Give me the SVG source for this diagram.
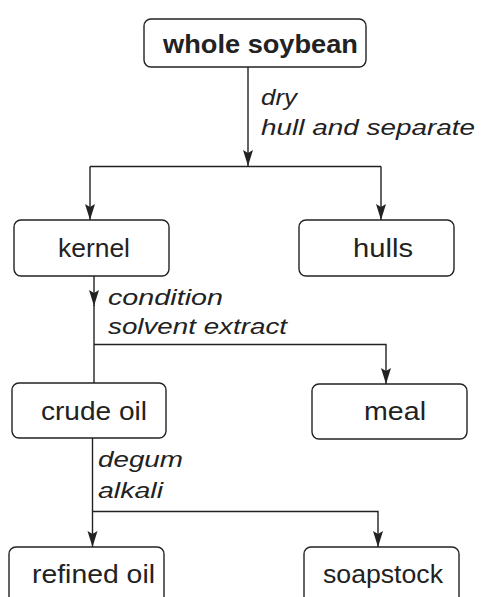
<svg xmlns="http://www.w3.org/2000/svg" width="481" height="597" viewBox="0 0 481 597">
<style>
.box{fill:#fff;stroke:#222;stroke-width:1.4}
.lbl{font-family:"Liberation Sans",Arial,sans-serif;font-size:26px;fill:#222}
.b{font-weight:bold}
.it{font-family:"Liberation Sans",Arial,sans-serif;font-size:22px;font-style:italic;fill:#222}
.ln{fill:none;stroke:#222;stroke-width:1.4}
</style>
<defs>
<marker id="arr" markerUnits="userSpaceOnUse" markerWidth="18" markerHeight="12" viewBox="-17 -6 18 12" refX="0" refY="0" orient="auto">
<path d="M0,0 L-16,-5 L-13,0 L-16,5 Z" fill="#222"/>
</marker>
</defs>
<g id="connectors">
<path class="ln" d="M248,67 V166" marker-end="url(#arr)"/>
<path class="ln" d="M90,166.5 H381"/>
<path class="ln" d="M90,166.5 V220" marker-end="url(#arr)"/>
<path class="ln" d="M381,166.5 V220" marker-end="url(#arr)"/>
<path class="ln" d="M94,276 V306" marker-end="url(#arr)"/>
<path class="ln" d="M94,305 V383"/>
<path class="ln" d="M94,344.5 H386 V384" marker-end="url(#arr)"/>
<path class="ln" d="M92.5,438 V547" marker-end="url(#arr)"/>
<path class="ln" d="M92.5,511.5 H378 V547" marker-end="url(#arr)"/>
</g>
<g id="whole-soybean">
<rect class="box" x="144" y="19" width="222" height="48" rx="7"/>
<text class="lbl b" x="163" y="53" textLength="195" lengthAdjust="spacingAndGlyphs">whole soybean</text>
</g>
<g id="label-dry">
<text class="it" x="261" y="105" textLength="36" lengthAdjust="spacingAndGlyphs">dry</text>
<text class="it" x="261" y="135" textLength="214" lengthAdjust="spacingAndGlyphs">hull and separate</text>
</g>
<g id="kernel">
<rect class="box" x="14" y="220" width="155" height="56" rx="7"/>
<text class="lbl" x="58" y="257" textLength="72" lengthAdjust="spacingAndGlyphs">kernel</text>
</g>
<g id="hulls">
<rect class="box" x="299" y="220" width="155" height="56" rx="7"/>
<text class="lbl" x="353" y="257" textLength="60" lengthAdjust="spacingAndGlyphs">hulls</text>
</g>
<g id="label-condition">
<text class="it" x="108" y="305" textLength="115" lengthAdjust="spacingAndGlyphs">condition</text>
<text class="it" x="108" y="334" textLength="179" lengthAdjust="spacingAndGlyphs">solvent extract</text>
</g>
<g id="crude-oil">
<rect class="box" x="12" y="383" width="154" height="55" rx="7"/>
<text class="lbl" x="41" y="420" textLength="106" lengthAdjust="spacingAndGlyphs">crude oil</text>
</g>
<g id="meal">
<rect class="box" x="312" y="384" width="155" height="55" rx="7"/>
<text class="lbl" x="364" y="420" textLength="62" lengthAdjust="spacingAndGlyphs">meal</text>
</g>
<g id="label-degum">
<text class="it" x="98" y="467" textLength="85" lengthAdjust="spacingAndGlyphs">degum</text>
<text class="it" x="98" y="498" textLength="65" lengthAdjust="spacingAndGlyphs">alkali</text>
</g>
<g id="refined-oil">
<rect class="box" x="9" y="547" width="155" height="60" rx="7"/>
<text class="lbl" x="32" y="583" textLength="123" lengthAdjust="spacingAndGlyphs">refined oil</text>
</g>
<g id="soapstock">
<rect class="box" x="304" y="547" width="155" height="60" rx="7"/>
<text class="lbl" x="323" y="583" textLength="120" lengthAdjust="spacingAndGlyphs">soapstock</text>
</g>
</svg>
